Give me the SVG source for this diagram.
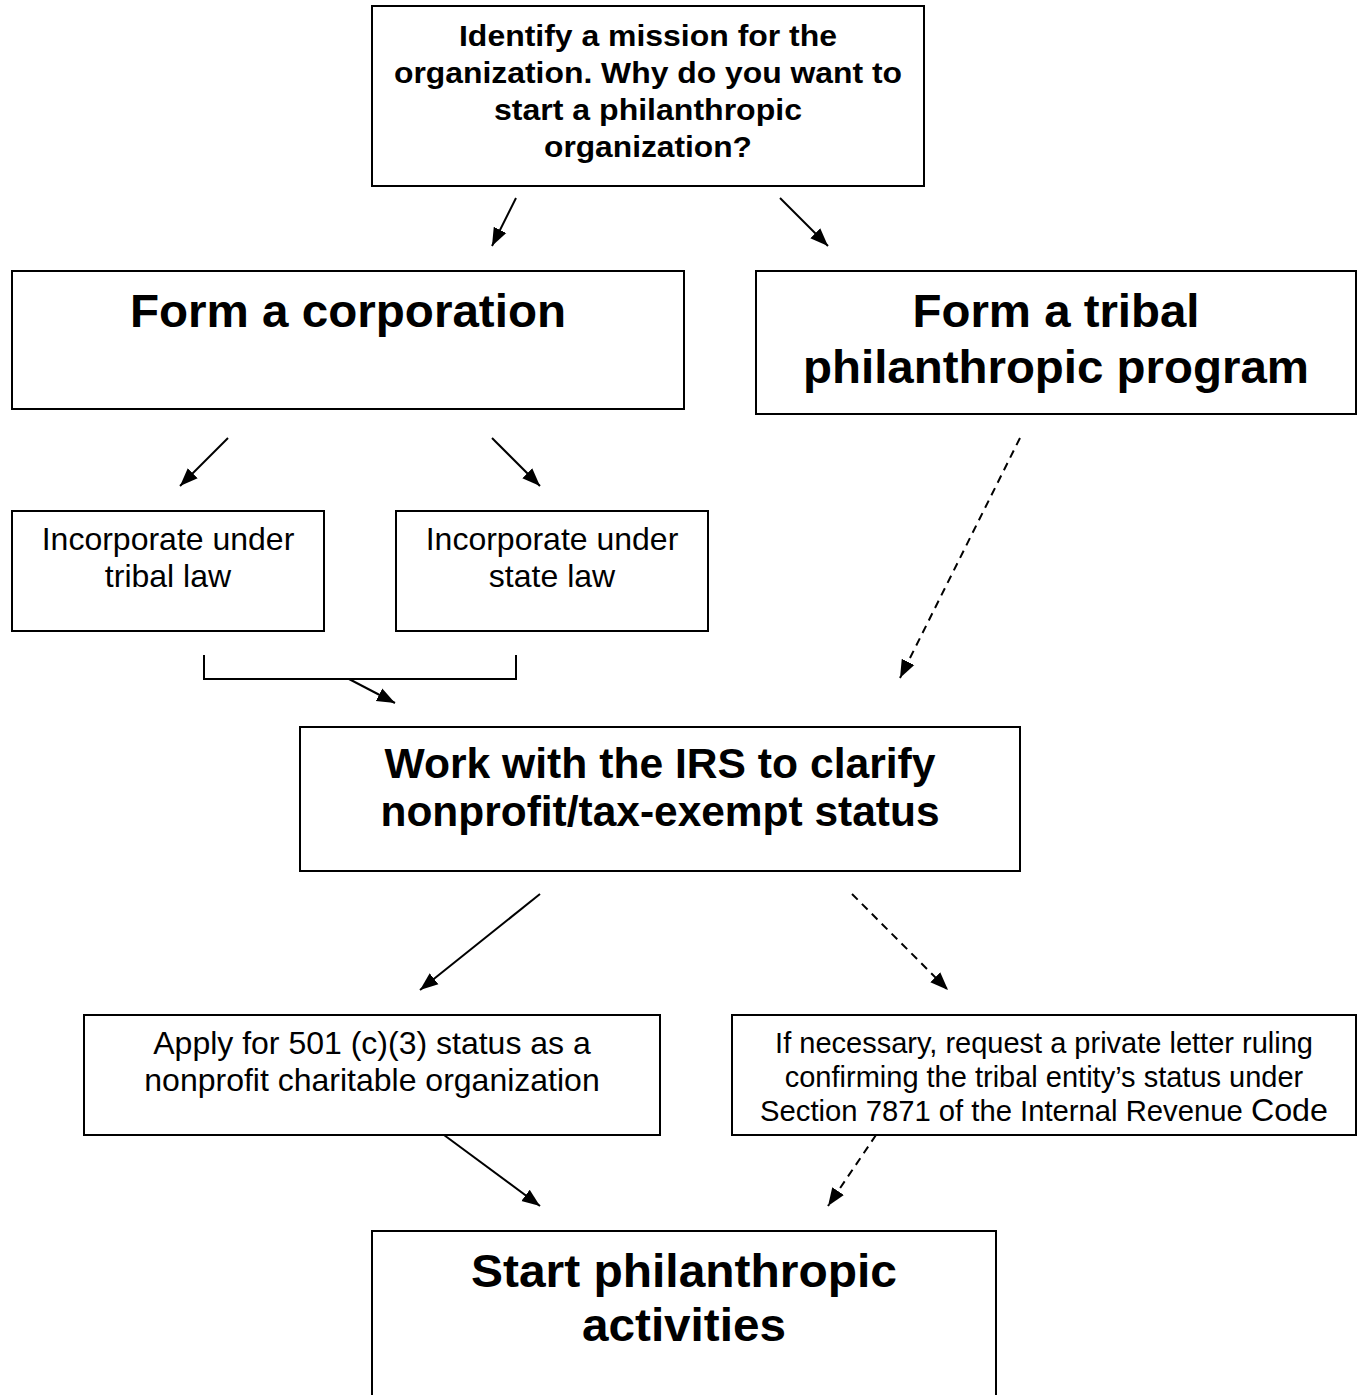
<svg xmlns="http://www.w3.org/2000/svg" width="1362" height="1395" viewBox="0 0 1362 1395">
<style>
.box{fill:#fff;stroke:#000;stroke-width:2}
.t{font-family:"Liberation Sans",Arial,sans-serif;fill:#000;text-anchor:middle}
.b29{font-size:29px;font-weight:bold}
.b46{font-size:46px;font-weight:bold}
.b42{font-size:42px;font-weight:bold}
.r32{font-size:32px}
.r29{font-size:29px}
.c{fill:none;stroke:#000;stroke-width:2}
.d{stroke-dasharray:8,6}
</style>
<defs>
<marker id="ah" markerUnits="userSpaceOnUse" markerWidth="20" markerHeight="20" viewBox="0 0 20 20" refX="18" refY="10" orient="auto">
<path d="M0,3 L18,10 L0,17 Z" fill="#000"/>
</marker>
</defs>
<rect width="1362" height="1395" fill="#fff"/>
<g id="n1">
<rect class="box" x="372" y="6" width="552" height="180"/>
<text class="t b29" x="648" y="46" textLength="378" lengthAdjust="spacingAndGlyphs">Identify a mission for the</text>
<text class="t b29" x="648" y="83" textLength="508" lengthAdjust="spacingAndGlyphs">organization. Why do you want to</text>
<text class="t b29" x="648" y="120" textLength="308" lengthAdjust="spacingAndGlyphs">start a philanthropic</text>
<text class="t b29" x="648" y="157" textLength="208" lengthAdjust="spacingAndGlyphs">organization?</text>
</g>
<g id="n2">
<rect class="box" x="12" y="271" width="672" height="138"/>
<text class="t b46" x="348" y="327" textLength="436" lengthAdjust="spacingAndGlyphs">Form a corporation</text>
</g>
<g id="n3">
<rect class="box" x="756" y="271" width="600" height="143"/>
<text class="t b46" x="1056" y="327" textLength="287" lengthAdjust="spacingAndGlyphs">Form a tribal</text>
<text class="t b46" x="1056" y="383" textLength="506" lengthAdjust="spacingAndGlyphs">philanthropic program</text>
</g>
<g id="n4">
<rect class="box" x="12" y="511" width="312" height="120"/>
<text class="t r32" x="168" y="550">Incorporate under</text>
<text class="t r32" x="168" y="587">tribal law</text>
</g>
<g id="n5">
<rect class="box" x="396" y="511" width="312" height="120"/>
<text class="t r32" x="552" y="550">Incorporate under</text>
<text class="t r32" x="552" y="587">state law</text>
</g>
<g id="n6">
<rect class="box" x="300" y="727" width="720" height="144"/>
<text class="t b42" x="660" y="778" textLength="551" lengthAdjust="spacingAndGlyphs">Work with the IRS to clarify</text>
<text class="t b42" x="660" y="826" textLength="559" lengthAdjust="spacingAndGlyphs">nonprofit/tax-exempt status</text>
</g>
<g id="n7">
<rect class="box" x="84" y="1015" width="576" height="120"/>
<text class="t r32" x="372" y="1054">Apply for 501 (c)(3) status as a</text>
<text class="t r32" x="372" y="1091">nonprofit charitable organization</text>
</g>
<g id="n8">
<rect class="box" x="732" y="1015" width="624" height="120"/>
<text class="t r29" x="1044" y="1053">If necessary, request a private letter ruling</text>
<text class="t r29" x="1044" y="1087">confirming the tribal entity’s status under</text>
<text class="t r29" x="1044" y="1121" textLength="568" lengthAdjust="spacingAndGlyphs">Section 7871 of the Internal Revenue <tspan font-size="32">Code</tspan></text>
</g>
<g id="n9">
<rect class="box" x="372" y="1231" width="624" height="180"/>
<text class="t b46" x="684" y="1287" textLength="426" lengthAdjust="spacingAndGlyphs">Start philanthropic</text>
<text class="t b46" x="684" y="1341" textLength="204" lengthAdjust="spacingAndGlyphs">activities</text>
</g>
<g id="connectors">
<path class="c" d="M516,198 L492,246" marker-end="url(#ah)"/>
<path class="c" d="M780,198 L828,246" marker-end="url(#ah)"/>
<path class="c" d="M228,438 L180,486" marker-end="url(#ah)"/>
<path class="c" d="M492,438 L540,486" marker-end="url(#ah)"/>
<path class="c d" d="M1020,438 L900,678" marker-end="url(#ah)"/>
<path class="c" d="M204,655 L204,679 L516,679 L516,655"/>
<path class="c" d="M349,679 L395,703" marker-end="url(#ah)"/>
<path class="c" d="M540,894 L420,990" marker-end="url(#ah)"/>
<path class="c d" d="M852,894 L948,990" marker-end="url(#ah)"/>
<path class="c" d="M444,1135 L540,1206" marker-end="url(#ah)"/>
<path class="c d" d="M876,1135 L828,1206" marker-end="url(#ah)"/>
</g>
</svg>
